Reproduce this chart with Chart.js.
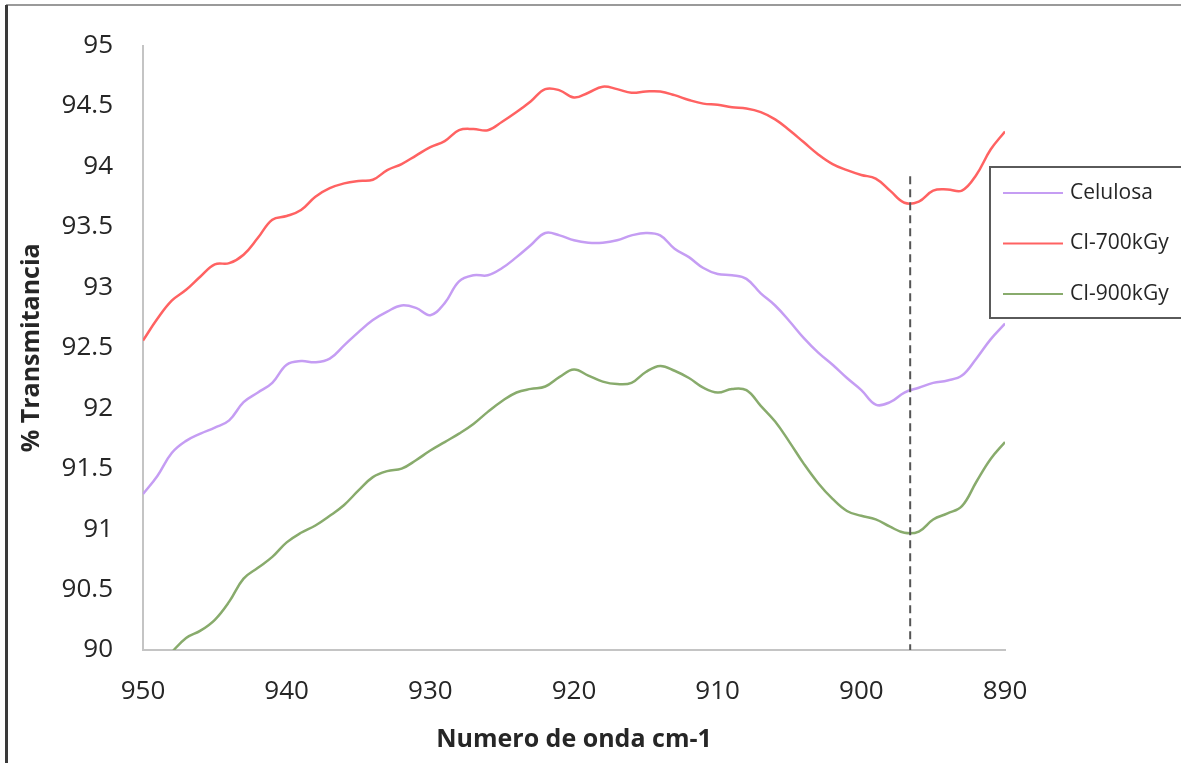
<!DOCTYPE html>
<html>
<head>
<meta charset="utf-8">
<script src="https://cdn.jsdelivr.net/npm/chart.js@4"></script>
<style>
  html, body { margin: 0; padding: 0; background: #fff; }
  #wrap { position: relative; width: 1181px; height: 763px; overflow: hidden; }
  #frameTop { position: absolute; left: 6px; top: 4px; width: 1175px; height: 0; border-top: 2px solid #9a9a9a; }
  #frameLeft { position: absolute; left: 5px; top: 5px; width: 0; height: 758px; border-left: 3px solid #3a3a3a; }
</style>
</head>
<body>
<div id="wrap">
  <canvas id="chart" width="1181" height="763"></canvas>
  <div id="frameTop"></div>
  <div id="frameLeft"></div>
</div>
<script>
// wavenumber (cm-1), one point per unit
var wavenumbers = [950, 949, 948, 947, 946, 945, 944, 943, 942, 941,
                   940, 939, 938, 937, 936, 935, 934, 933, 932, 931,
                   930, 929, 928, 927, 926, 925, 924, 923, 922, 921,
                   920, 919, 918, 917, 916, 915, 914, 913, 912, 911,
                   910, 909, 908, 907, 906, 905, 904, 903, 902, 901,
                   900, 899, 898, 897, 896, 895, 894, 893, 892, 891, 890];

var celulosa = [91.29, 91.44, 91.63, 91.73, 91.79, 91.84, 91.90, 92.05, 92.13, 92.21,
                92.36, 92.39, 92.38, 92.41, 92.52, 92.63, 92.73, 92.80, 92.85, 92.83,
                92.77, 92.87, 93.05, 93.10, 93.10, 93.16, 93.25, 93.35, 93.45, 93.43,
                93.39, 93.37, 93.37, 93.39, 93.43, 93.45, 93.43, 93.32, 93.25, 93.16,
                93.11, 93.10, 93.07, 92.95, 92.85, 92.72, 92.58, 92.46, 92.36, 92.25,
                92.15, 92.03, 92.05, 92.13, 92.17, 92.21, 92.23, 92.27, 92.41, 92.57, 92.70];

var ci700 = [92.56, 92.74, 92.89, 92.98, 93.09, 93.19, 93.20, 93.27, 93.41, 93.56,
             93.59, 93.64, 93.75, 93.82, 93.86, 93.88, 93.89, 93.97, 94.02, 94.09,
             94.16, 94.21, 94.30, 94.31, 94.30, 94.37, 94.45, 94.54, 94.64, 94.63,
             94.57, 94.61, 94.66, 94.64, 94.61, 94.62, 94.62, 94.59, 94.55, 94.52,
             94.51, 94.49, 94.48, 94.45, 94.39, 94.30, 94.20, 94.10, 94.02, 93.97,
             93.93, 93.90, 93.80, 93.70, 93.71, 93.80, 93.81, 93.80, 93.93, 94.14, 94.29];

var ci900 = [89.67, 89.84, 89.98, 90.10, 90.16, 90.25, 90.40, 90.59, 90.68, 90.77,
             90.89, 90.97, 91.03, 91.11, 91.20, 91.32, 91.43, 91.48, 91.50, 91.57,
             91.65, 91.72, 91.79, 91.87, 91.97, 92.06, 92.13, 92.16, 92.18, 92.26,
             92.32, 92.27, 92.22, 92.20, 92.21, 92.30, 92.35, 92.31, 92.25, 92.17,
             92.13, 92.16, 92.15, 92.02, 91.89, 91.72, 91.54, 91.38, 91.25, 91.15,
             91.11, 91.08, 91.02, 90.97, 90.98, 91.08, 91.13, 91.19, 91.39, 91.58, 91.72];

var seriesNames = ['Celulosa', 'CI-700kGy', 'CI-900kGy'];
var seriesColors = ['#c59df3', '#ff6262', '#88ab6c'];

// dashed reference line
var markerWavenumber = 896.6;
var markerTop = 93.92;

function toPoints(values) {
    return values.map(function (v, i) { return { x: wavenumbers[i], y: v }; });
}

var textColor = '#262626';
var fontFamily = '"Open Sans", "Noto Sans", sans-serif';

var markerPlugin = {
    id: 'marker',
    afterDatasetsDraw: function (chart) {
        var ctx = chart.ctx;
        var xs = chart.scales.x, ys = chart.scales.y;
        var px = xs.getPixelForValue(markerWavenumber);
        ctx.save();
        ctx.strokeStyle = '#555555';
        ctx.lineWidth = 2;
        ctx.setLineDash([8, 5]);
        ctx.beginPath();
        ctx.moveTo(px, ys.getPixelForValue(markerTop));
        ctx.lineTo(px, ys.getPixelForValue(90));
        ctx.stroke();
        ctx.restore();
    }
};

var boxLegendPlugin = {
    id: 'boxLegend',
    afterDraw: function (chart) {
        var ctx = chart.ctx;
        var left = 990, top = 167, bottom = 318;
        ctx.save();
        ctx.fillStyle = '#ffffff';
        ctx.fillRect(left, top, 260, bottom - top);
        ctx.strokeStyle = '#5a5a5a';
        ctx.lineWidth = 2;
        ctx.strokeRect(left, top, 260, bottom - top);
        ctx.font = '21px ' + fontFamily;
        ctx.textBaseline = 'middle';
        chart.data.datasets.forEach(function (ds, i) {
            var y = 193 + i * 50.5;
            ctx.strokeStyle = ds.borderColor;
            ctx.lineWidth = 2;
            ctx.beginPath();
            ctx.moveTo(1003, y);
            ctx.lineTo(1063, y);
            ctx.stroke();
            ctx.fillStyle = textColor;
            ctx.fillText(ds.label, 1070, y);
        });
        ctx.restore();
    }
};

var ctx = document.getElementById('chart').getContext('2d');
var chart = new Chart(ctx, {
    type: 'line',
    data: {
        datasets: [
            { label: seriesNames[0], data: toPoints(celulosa), borderColor: seriesColors[0] },
            { label: seriesNames[1], data: toPoints(ci700), borderColor: seriesColors[1] },
            { label: seriesNames[2], data: toPoints(ci900), borderColor: seriesColors[2] }
        ]
    },
    options: {
        responsive: false,
        animation: false,
        layout: { padding: { top: 40, right: 176, left: 0, bottom: 0 } },
        elements: {
            point: { radius: 0 },
            line: { borderWidth: 2.5, tension: 0.4, fill: false }
        },
        plugins: {
            legend: { display: false },
            tooltip: { enabled: false }
        },
        scales: {
            x: {
                type: 'linear',
                reverse: true,
                min: 890,
                max: 950,
                afterFit: function (scale) { scale.height = 113; },
                grid: { display: false, drawTicks: false },
                border: { display: true, color: '#c4c4c4', width: 2 },
                ticks: {
                    stepSize: 10,
                    padding: 26,
                    color: textColor,
                    font: { family: fontFamily, size: 26 }
                },
                title: {
                    display: true,
                    text: 'Numero de onda cm-1',
                    color: textColor,
                    font: { family: fontFamily, size: 25, weight: 'bold' },
                    padding: { top: 0, bottom: 8 }
                }
            },
            y: {
                min: 90,
                max: 95,
                afterFit: function (scale) { scale.width = 143; },
                grid: { display: false, drawTicks: false },
                border: { display: true, color: '#c4c4c4', width: 2 },
                ticks: {
                    stepSize: 0.5,
                    padding: 30,
                    color: textColor,
                    font: { family: fontFamily, size: 26 },
                    callback: function (value) { return String(value); }
                },
                title: {
                    display: true,
                    text: '% Transmitancia',
                    color: textColor,
                    font: { family: fontFamily, size: 25, weight: 'bold' },
                    padding: { top: 17, bottom: 0 }
                }
            }
        }
    },
    plugins: [markerPlugin, boxLegendPlugin]
});
</script>
</body>
</html>
